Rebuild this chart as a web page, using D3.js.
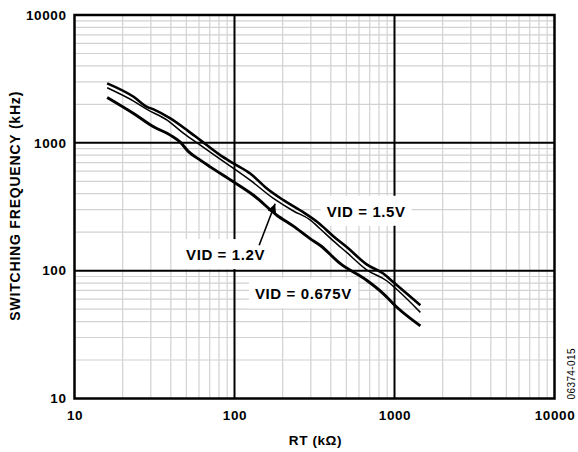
<!DOCTYPE html>
<html>
<head>
<meta charset="utf-8">
<script src="https://cdn.jsdelivr.net/npm/d3@7/dist/d3.min.js"></script>
<style>
  html, body { margin: 0; padding: 0; background: #fff; }
  svg { display: block; }
  text { font-family: "Liberation Sans", Arial, Helvetica, sans-serif; }
</style>
</head>
<body>
<svg id="chart" width="578" height="452"></svg>
<script>
// ---- data ----
const xTicks = [10, 100, 1000, 10000];
const yTicks = [10, 100, 1000, 10000];

const rt15   = [16.0, 23.4, 28.4, 31.2, 39.7, 50.5, 61.1, 81.4, 98.6, 125.3, 159.3, 202.2, 257, 342.5, 414.6, 502.7, 669.9, 850.2, 981.7, 1451];
const freq15 = [2919, 2292, 1914, 1826, 1553, 1258, 1050, 801, 690, 576, 439, 356, 297, 231, 186, 153, 112, 94.9, 81.5, 53.6];

const rt12   = [16.0, 23.4, 28.4, 37.9, 48.1, 61.1, 98.6, 125.3, 175.1, 233.4, 296.6, 342.5, 414.6, 502.7, 669.9, 892.8, 1031, 1451];
const freq12 = [2696, 2121, 1826, 1506, 1185, 959, 630, 510, 367, 293, 250, 212.9, 171, 139, 101.6, 83.4, 71.5, 47.2];

const rt0675   = [16.0, 23.4, 31.2, 39.7, 45.8, 51.6, 61.1, 70.5, 98.6, 131.4, 183.9, 233.4, 296.6, 342.5, 456.4, 669.9, 850.2, 1031, 1451];
const freq0675 = [2267, 1699, 1335, 1149, 1013, 853, 732, 649, 495, 389, 271.5, 223, 178, 158, 114, 84.1, 66.2, 52.0, 37.0];

const seriesNames = ["VID = 1.5V", "VID = 1.2V", "VID = 0.675V"];

// ---- layout ----
const svg = d3.select("#chart");
const L = 74.5, R = 554.5, T = 15, B = 398.5;
const x = d3.scaleLog().domain([10, 10000]).range([L, R]);
const y = d3.scaleLog().domain([10, 10000]).range([B, T]);

// minor grid values
const minor = [];
[10, 100, 1000].forEach(d => { for (let k = 2; k <= 9; k++) minor.push(d * k); });

const grid = svg.append("g");
grid.selectAll("line.mx").data(minor).join("line")
  .attr("x1", d => x(d)).attr("x2", d => x(d)).attr("y1", T).attr("y2", B)
  .attr("stroke", "#d2d2d2").attr("stroke-width", 1.2);
grid.selectAll("line.my").data(minor).join("line")
  .attr("y1", d => y(d)).attr("y2", d => y(d)).attr("x1", L).attr("x2", R)
  .attr("stroke", "#d2d2d2").attr("stroke-width", 1.2);

// major grid
grid.selectAll("line.Mx").data([100, 1000]).join("line")
  .attr("x1", d => x(d)).attr("x2", d => x(d)).attr("y1", T).attr("y2", B)
  .attr("stroke", "#000").attr("stroke-width", 2);
grid.selectAll("line.My").data([100, 1000]).join("line")
  .attr("y1", d => y(d)).attr("y2", d => y(d)).attr("x1", L).attr("x2", R)
  .attr("stroke", "#000").attr("stroke-width", 2);

// ---- label boxes (white background) ----
const labels = [
  { text: seriesNames[0], rt: 377, f: 264 },
  { text: seriesNames[1], rt: 49.8, f: 121 },
  { text: seriesNames[2], rt: 134.3, f: 59.7 }
];
const labG = svg.append("g");
labels.forEach(l => {
  const t = labG.append("text")
    .attr("x", x(l.rt)).attr("y", y(l.f))
    .attr("font-size", 15).attr("font-weight", "bold")
    .attr("letter-spacing", 0.6)
    .text(l.text);
  const bb = t.node().getBBox();
  labG.insert("rect", "text")
    .attr("x", bb.x - 6).attr("y", bb.y - 7)
    .attr("width", bb.width + 12).attr("height", bb.height + 13)
    .attr("fill", "#fff");
});

// ---- curves ----
const line = d3.line().x(d => x(d[0])).y(d => y(d[1])).curve(d3.curveMonotoneX);
const series = [
  { rt: rt15, f: freq15, w: 2.6 },
  { rt: rt12, f: freq12, w: 1.5 },
  { rt: rt0675, f: freq0675, w: 2.9 }
];
svg.append("g").selectAll("path").data(series).join("path")
  .attr("d", s => line(s.rt.map((r, i) => [r, s.f[i]])))
  .attr("fill", "none").attr("stroke", "#000")
  .attr("stroke-width", s => s.w).attr("stroke-linejoin", "round");

// ---- arrow for VID = 1.2V ----
svg.append("defs").append("marker")
  .attr("id", "ah").attr("viewBox", "0 0 10 10").attr("refX", 10).attr("refY", 5)
  .attr("markerUnits", "userSpaceOnUse").attr("markerWidth", 13).attr("markerHeight", 9)
  .attr("orient", "auto")
  .append("path").attr("d", "M0,0 L10,5 L0,10 Z").attr("fill", "#000");
svg.append("line")
  .attr("x1", x(142.6)).attr("y1", y(158))
  .attr("x2", x(179.4)).attr("y2", y(334))
  .attr("stroke", "#000").attr("stroke-width", 1.6)
  .attr("marker-end", "url(#ah)");

// ---- border ----
svg.append("rect").attr("x", L).attr("y", T).attr("width", R - L).attr("height", B - T)
  .attr("fill", "none").attr("stroke", "#000").attr("stroke-width", 2.5);

// ---- axes (labels only) ----
const fmt = d3.format("d");
const ax = svg.append("g").attr("transform", `translate(0,${B})`)
  .call(d3.axisBottom(x).tickValues(xTicks).tickFormat(fmt).tickSize(0).tickPadding(12));
const ay = svg.append("g").attr("transform", `translate(${L},0)`)
  .call(d3.axisLeft(y).tickValues(yTicks).tickFormat(fmt).tickSize(0).tickPadding(8));
[ax, ay].forEach(g => {
  g.select(".domain").remove();
  g.selectAll("text").attr("font-size", 13.5).attr("font-weight", "bold")
    .attr("letter-spacing", 0.6).attr("fill", "#000")
    .style("font-family", "'Liberation Sans', Arial, sans-serif");
});

// ---- titles ----
svg.append("text").attr("x", (L + R) / 2 + 1).attr("y", 445)
  .attr("text-anchor", "middle").attr("font-size", 13.5).attr("font-weight", "bold")
  .attr("letter-spacing", 0.6)
  .text("RT (kΩ)");
svg.append("text").attr("transform", `translate(20,${(T + B) / 2 - 1}) rotate(-90)`)
  .attr("text-anchor", "middle").attr("font-size", 14).attr("font-weight", "bold")
  .attr("letter-spacing", 0.8)
  .text("SWITCHING FREQUENCY (kHz)");
svg.append("text").attr("transform", `translate(575,${B + 1}) rotate(-90)`)
  .attr("text-anchor", "start").attr("font-size", 10)
  .attr("letter-spacing", 0.4)
  .text("06374-015");
</script>
</body>
</html>
